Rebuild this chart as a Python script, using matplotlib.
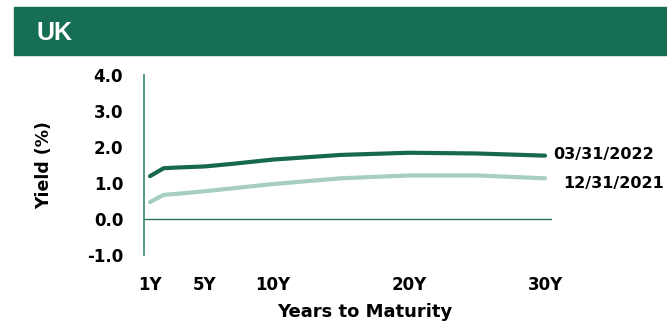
import matplotlib.pyplot as plt
from matplotlib.patches import Rectangle

# UK gilt yield curves
maturity = [1, 2, 3, 5, 7, 10, 15, 20, 25, 30]
yield_2022 = [1.19, 1.41, 1.43, 1.46, 1.53, 1.65, 1.78, 1.84, 1.82, 1.76]
yield_2021 = [0.47, 0.67, 0.70, 0.77, 0.85, 0.97, 1.13, 1.21, 1.21, 1.13]
date_2022 = "03/31/2022"
date_2021 = "12/31/2021"
tick_pos = [1, 5, 10, 20, 30]
tick_lab = ["1Y", "5Y", "10Y", "20Y", "30Y"]
y_ticks = [-1.0, 0.0, 1.0, 2.0, 3.0, 4.0]

dark = "#16694f"
light = "#a6cfbd"
axis_green = "#4a8f73"

plt.rcParams['font.family'] = ['DejaVu Sans']
plt.rcParams['font.weight'] = 'bold'

fig = plt.figure(figsize=(6.67, 3.21), dpi=100)

# header bar
fig.patches.append(Rectangle((14 / 667, 1 - 55 / 321), 1 - 14 / 667, 48 / 321,
                             transform=fig.transFigure, color="#166e55", zorder=0))
fig.text(37 / 667, 1 - 33.5 / 321, "UK", color="white", fontsize=18,
         fontweight="bold", va="center", ha="left", family="Liberation Sans")

ax = fig.add_axes([144 / 667, 1 - 255 / 321, 408 / 667, 180 / 321])
ax.plot(maturity, yield_2022, color=dark, lw=3, solid_capstyle="round")
ax.plot(maturity, yield_2021, color=light, lw=3, solid_capstyle="round")
ax.axhline(0, color="#2a7558", lw=1)

ax.set_xlim(0.56, 30.51)
ax.set_ylim(-1.0, 4.0)
ax.set_xticks(tick_pos)
ax.set_xticklabels(tick_lab)
ax.set_yticks(y_ticks)
ax.set_yticklabels([f"{v:.1f}" for v in y_ticks])
ax.tick_params(axis="both", length=0, labelsize=12)
ax.tick_params(axis="y", pad=15)
ax.tick_params(axis="x", pad=15)

for s in ["top", "right", "bottom"]:
    ax.spines[s].set_visible(False)
ax.spines["left"].set_color(axis_green)
ax.spines["left"].set_linewidth(1.3)

ax.set_ylabel("Yield (%)", fontsize=12.5, fontweight="bold", va="center")
ax.yaxis.set_label_coords(-0.245, 0.5)
ax.set_xlabel("Years to Maturity", fontsize=13, fontweight="bold", va="center")
ax.xaxis.set_label_coords(0.542, -0.317)

ax.annotate(date_2022, (maturity[-1], yield_2022[-1]), xytext=(6, 0.5),
            textcoords="offset points", va="center", ha="left",
            fontsize=11.5, fontweight="bold", annotation_clip=False)
ax.annotate(date_2021, (maturity[-1], yield_2021[-1]), xytext=(13, -3.4),
            textcoords="offset points", va="center", ha="left",
            fontsize=11.5, fontweight="bold", annotation_clip=False)

fig.savefig("out.png", dpi=100)
